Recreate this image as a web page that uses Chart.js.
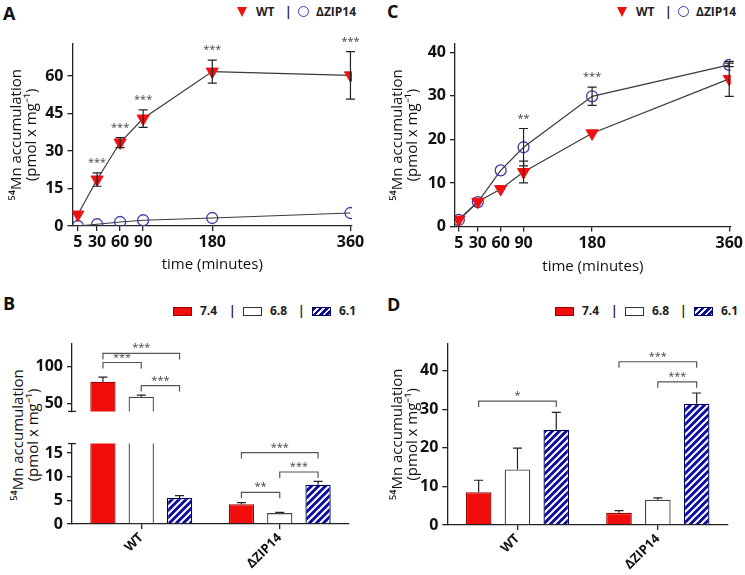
<!DOCTYPE html>
<html>
<head>
<meta charset="utf-8">
<script src="https://cdn.jsdelivr.net/npm/chart.js@4.4.1/dist/chart.umd.min.js"></script>
<style>
    body { margin: 0; background: #fff; font-family: 'Open Sans', sans-serif; }
    #fig { position: relative; width: 745px; height: 575px; overflow: hidden; background: #fff; }
    #fig canvas { position: absolute; }
    .panel { position: absolute; font-size: 18px; line-height: 18px; font-weight: bold; color: #111; }
    .legend { position: absolute; height: 16px; font-size: 12px; line-height: 16px; font-weight: bold; color: #222; }
    .legend > * { position: absolute; top: 0; white-space: nowrap; }
    .tri { width: 0; height: 0; margin-top: 3px; border-left: 5.5px solid transparent; border-right: 5.5px solid transparent; border-top: 10px solid #ee1111; }
    .circ { width: 9px; height: 9px; margin-top: 2px; border: 1.3px solid #3b3ba6; border-radius: 50%; }
    .sw { width: 17px; height: 7px; margin-top: 3.5px; border: 1.2px solid #333; }
    .sw.red { background: #f20d0d; border-color: #9a0000; }
    .sw.white { background: #fff; }
    .sw.hatch { background: repeating-linear-gradient(135deg, #0c0ca0 0 2.6px, #fff 2.6px 4.4px); border-color: #000060; }
    .ytitle { position: absolute; width: 220px; height: 30px; text-align: center; font-size: 15px; line-height: 15px; color: #111; transform: rotate(-90deg); }
</style>
</head>
<body>
<div id="fig">
    <div class="panel" style="left:3px; top:4px;">A</div>
    <div class="panel" style="left:3px; top:294px;">B</div>
    <div class="panel" style="left:387px; top:2px;">C</div>
    <div class="panel" style="left:387px; top:295px;">D</div>
    <div class="ytitle" style="left:-85px; top:420px;">⁵⁴Mn accumulation<br>(pmol x mg⁻¹)</div>
</div>

<script>
// time course (panels A and C)
const timePoints = [5, 30, 60, 90, 180, 360];
const strainNames = ['WT', 'ΔZIP14'];

const aWT = [4.6, 18.6, 33.4, 43.0, 61.8, 60.3];
const aWTErr = [0, 2.7, 2.0, 3.5, 4.6, 9.5];
const aZIP = [0, 0.7, 1.6, 2.3, 3.2, 5.2];
const aZIPErr = [0, 0, 0, 0, 0, 0];
const aStars = ['', '***', '***', '***', '***', '***'];
const aYTicks = [0, 15, 30, 45, 60];

const cWT = [1.6, 5.7, 8.6, 12.5, 21.4, 33.9];
const cWTErr = [0, 0, 0, 2.5, 0, 4.0];
const cZIP = [1.5, 5.6, 12.9, 18.2, 29.9, 37.1];
const cZIPErr = [0, 0, 0, 4.3, 2.1, 0.4];
const cStars = ['', '', '', '**', '***', ''];
const cYTicks = [0, 10, 20, 30, 40];

// pH bars (panels B and D)
const phLevels = ['7.4', '6.8', '6.1'];

const b74 = [79.5, 4.2];
const b74Err = [5.9, 0.3];
const b68 = [59.4, 2.3];
const b68Err = [2.1, 0.15];
const b61 = [5.5, 8.3];
const b61Err = [0.5, 0.7];
// [strain, from pH, to pH, level, label]
const bBrackets = [[0, 0, 2, 117, '***'], [0, 0, 1, 104.9, '***'], [0, 1, 2, 74.3, '***'],
                   [1, 0, 2, 15.1, '***'], [1, 1, 2, 11.0, '***'], [1, 0, 1, 6.7, '**']];
const bUpperTicks = [50, 100];
const bLowerTicks = [0, 5, 10, 15];

const d74 = [8.5, 3.15];
const d74Err = [3.1, 0.55];
const d68 = [14.4, 6.55];
const d68Err = [5.5, 0.5];
const d61 = [24.7, 31.4];
const d61Err = [4.5, 2.8];
const dBrackets = [[0, 0, 2, 32.1, '*'], [1, 0, 2, 42.3, '***'], [1, 1, 2, 37.1, '***']];
const dYTicks = [0, 10, 20, 30, 40];

const fontFam = "'Open Sans', sans-serif";
const axisColor = '#222';
const yTitle = ['⁵⁴Mn accumulation', '(pmol x mg⁻¹)'];
const tickFont = { family: fontFam, size: 16, weight: 'bold' };

// error bars, stars and brackets, placed with the chart's own scales
const marks = {
    id: 'marks',
    afterDatasetsDraw(chart, args, o) {
        const ctx = chart.ctx;
        const y = chart.scales.y;
        const errTops = [];
        ctx.save();
        ctx.strokeStyle = '#222';
        ctx.lineWidth = 1.2;
        (o.errors || []).forEach(function (errs, di) {
            const meta = chart.getDatasetMeta(di);
            const vals = chart.data.datasets[di].data;
            errs.forEach(function (e, i) {
                const v = typeof vals[i] === 'object' ? vals[i].y : vals[i];
                const px = meta.data[i].x;
                const top = y.getPixelForValue(v + e);
                errTops[i] = Math.min(errTops[i] === undefined ? Infinity : errTops[i], top);
                if (!e || v > y.max || v + e < y.min) return;
                const bot = o.upOnly ? y.getPixelForValue(v) : y.getPixelForValue(v - e);
                ctx.beginPath();
                ctx.moveTo(px, top); ctx.lineTo(px, bot);
                ctx.moveTo(px - 4.5, top); ctx.lineTo(px + 4.5, top);
                if (!o.upOnly) { ctx.moveTo(px - 4.5, bot); ctx.lineTo(px + 4.5, bot); }
                ctx.stroke();
            });
        });
        ctx.fillStyle = '#444';
        ctx.font = '11px ' + fontFam;
        ctx.textAlign = 'center';
        ctx.textBaseline = 'alphabetic';
        (o.stars || []).forEach(function (s, i) {
            if (!s) return;
            const px = chart.getDatasetMeta(0).data[i].x;
            ctx.fillText(s, px, errTops[i] - 7);
        });
        (o.brackets || []).forEach(function (b) {
            if (b[3] < y.min || b[3] > y.max) return;
            const x1 = chart.getDatasetMeta(b[1]).data[b[0]].x;
            const x2 = chart.getDatasetMeta(b[2]).data[b[0]].x;
            const py = y.getPixelForValue(b[3]);
            ctx.strokeStyle = '#555';
            ctx.beginPath();
            ctx.moveTo(x1, py + 6); ctx.lineTo(x1, py); ctx.lineTo(x2, py); ctx.lineTo(x2, py + 6);
            ctx.stroke();
            ctx.fillText(b[4], (x1 + x2) / 2, py - 2);
        });
        if (o.breakCap) {
            const a = chart.chartArea;
            const cy = o.breakCap === 'top' ? a.top : a.bottom;
            ctx.strokeStyle = axisColor;
            ctx.lineWidth = 1.3;
            ctx.beginPath();
            ctx.moveTo(a.left - 4, cy); ctx.lineTo(a.left + 4, cy);
            ctx.stroke();
        }
        ctx.restore();
    }
};

function makeCanvas(left, top, w, h) {
    const c = document.createElement('canvas');
    c.width = w;
    c.height = h;
    c.style.left = left + 'px';
    c.style.top = top + 'px';
    c.style.width = w + 'px';
    c.style.height = h + 'px';
    document.getElementById('fig').appendChild(c);
    return c;
}

// legend rows: [class or null, text, x offset]
function makeLegend(left, top, items) {
    const box = document.createElement('div');
    box.className = 'legend';
    box.style.left = left + 'px';
    box.style.top = top + 'px';
    items.forEach(function (it) {
        const el = document.createElement('span');
        if (it[0]) el.className = it[0];
        el.textContent = it[1];
        el.style.left = it[2] + 'px';
        box.appendChild(el);
    });
    document.getElementById('fig').appendChild(box);
}

function strainLegend(left, top) {
    makeLegend(left, top, [['tri', '', 0], [null, strainNames[0], 19], [null, '|', 48],
                           ['circ', '', 61], [null, strainNames[1], 79]]);
}

function phLegend(left, top) {
    makeLegend(left, top, [['sw red', '', 0], [null, phLevels[0], 27], [null, '|', 56],
                           ['sw white', '', 70], [null, phLevels[1], 97], [null, '|', 125],
                           ['sw hatch', '', 139], [null, phLevels[2], 166]]);
}

function makeHatch() {
    const p = document.createElement('canvas');
    p.width = 7;
    p.height = 7;
    const g = p.getContext('2d');
    g.fillStyle = '#0c0ca0';
    g.fillRect(0, 0, 7, 7);
    g.strokeStyle = '#fff';
    g.lineWidth = 2;
    g.beginPath();
    g.moveTo(-2, 9); g.lineTo(9, -2);
    g.moveTo(-2, 2); g.lineTo(2, -2);
    g.moveTo(5, 9); g.lineTo(9, 5);
    g.stroke();
    return g.createPattern(p, 'repeat');
}
const hatch = makeHatch();

function yAxis(min, max, tickVals, width, titlePad) {
    return {
        min: min,
        max: max,
        afterBuildTicks: function (axis) { axis.ticks = tickVals.map(v => ({ value: v })); },
        afterFit: function (axis) { axis.width = width; },
        grid: { drawOnChartArea: false, color: axisColor, tickLength: 5, lineWidth: 1.3 },
        border: { color: axisColor, width: 1.3 },
        ticks: { font: tickFont, color: '#111', padding: 4 },
        title: {
            display: titlePad !== null,
            text: yTitle,
            font: { family: fontFam, size: 15, lineHeight: 1.0 },
            color: '#111',
            padding: { top: titlePad || 0, bottom: 0 }
        }
    };
}

function timeAxis(min, max, height) {
    return {
        type: 'linear',
        min: min,
        max: max,
        afterBuildTicks: function (axis) { axis.ticks = timePoints.map(v => ({ value: v })); },
        afterFit: function (axis) { axis.height = height; },
        grid: { drawOnChartArea: false, color: axisColor, tickLength: 5, lineWidth: 1.3 },
        border: { color: axisColor, width: 1.3 },
        ticks: { font: tickFont, color: '#111', padding: 2, maxRotation: 0, autoSkip: false },
        title: { display: true, text: 'time (minutes)', font: { family: fontFam, size: 15, lineHeight: 1.2 }, color: '#111', padding: 0 }
    };
}

function strainAxis(height, show) {
    return {
        type: 'category',
        display: show,
        afterFit: function (axis) { axis.height = height; },
        grid: { drawOnChartArea: false, offset: false, color: axisColor, tickLength: 5, lineWidth: 1.3 },
        border: { color: axisColor, width: 1.3 },
        ticks: { font: { family: fontFam, size: 13, weight: 'bold' }, color: '#111', minRotation: 45, maxRotation: 45, padding: 1 }
    };
}

function timeData(wt, zip) {
    return {
        datasets: [{
            label: strainNames[0],
            data: timePoints.map((t, i) => ({ x: t, y: wt[i] })),
            borderColor: '#3a3a3a',
            borderWidth: 1.2,
            pointStyle: 'triangle',
            pointRotation: 180,
            pointRadius: 7,
            pointBackgroundColor: '#ee1111',
            pointBorderColor: '#ee1111',
            pointBorderWidth: 1,
            tension: 0,
            fill: false
        }, {
            label: strainNames[1],
            data: timePoints.map((t, i) => ({ x: t, y: zip[i] })),
            borderColor: '#3a3a3a',
            borderWidth: 1.2,
            pointStyle: 'circle',
            pointRadius: 5.5,
            pointBackgroundColor: 'rgba(0,0,0,0)',
            pointBorderColor: '#3b3ba6',
            pointBorderWidth: 1.3,
            tension: 0,
            fill: false
        }]
    };
}

function barData(v74, v68, v61) {
    const styles = [
        { backgroundColor: '#f20d0d', borderColor: '#9a0000' },
        { backgroundColor: '#ffffff', borderColor: '#444444' },
        { backgroundColor: hatch, borderColor: '#000060' }
    ];
    return {
        labels: strainNames,
        datasets: [v74, v68, v61].map((vals, k) => Object.assign({
            label: phLevels[k],
            data: vals,
            borderWidth: 1.3,
            categoryPercentage: 0.83,
            barPercentage: 0.66,
            clip: 0
        }, styles[k]))
    };
}

function baseOptions(padding, scales, markOpts) {
    return {
        responsive: false,
        animation: false,
        devicePixelRatio: 1,
        layout: { padding: padding },
        scales: scales,
        plugins: { legend: { display: false }, tooltip: { enabled: false }, marks: markOpts }
    };
}

strainLegend(237, 4);
strainLegend(617, 4);
phLegend(173, 303);
phLegend(555, 303);

// A: time course at pH 7.4
new Chart(makeCanvas(0, 30, 370, 250), {
    type: 'line',
    data: timeData(aWT, aZIP),
    options: baseOptions({ left: 0, top: 10.5, right: 18, bottom: 6 },
        { x: timeAxis(-2, 362, 48), y: yAxis(0, 73, aYTicks, 72.5, 9.5) },
        { errors: [aWTErr, aZIPErr], stars: aStars }),
    plugins: [marks]
});

// C: time course at low pH
new Chart(makeCanvas(370, 30, 375, 250), {
    type: 'line',
    data: timeData(cWT, cZIP),
    options: baseOptions({ left: 0, top: 8, right: 11, bottom: 4 },
        { x: timeAxis(0, 362, 49.5), y: yAxis(0, 42, cYTicks, 85, 20.5) },
        { errors: [cWTErr, cZIPErr], stars: cStars }),
    plugins: [marks]
});

// B: broken axis, upper segment
new Chart(makeCanvas(0, 330, 370, 95), {
    type: 'bar',
    data: barData(b74, b68, b61),
    options: baseOptions({ left: 0, top: 6, right: 21, bottom: 2 },
        { x: strainAxis(0, false), y: yAxis(40, 130, bUpperTicks, 72, null) },
        { errors: [b74Err, b68Err, b61Err], upOnly: true, brackets: bBrackets, breakCap: 'bottom' }),
    plugins: [marks]
});

// B: broken axis, lower segment
new Chart(makeCanvas(0, 430, 370, 145), {
    type: 'bar',
    data: barData(b74, b68, b61),
    options: baseOptions({ left: 0, top: 8, right: 21, bottom: 0 },
        { x: strainAxis(51, true), y: yAxis(0, 17, bLowerTicks, 72, null) },
        { errors: [b74Err, b68Err, b61Err], upOnly: true, brackets: bBrackets, breakCap: 'top' }),
    plugins: [marks]
});

// D
new Chart(makeCanvas(370, 330, 375, 245), {
    type: 'bar',
    data: barData(d74, d68, d61),
    options: baseOptions({ left: 0, top: 6.7, right: 17, bottom: 0 },
        { x: strainAxis(50, true), y: yAxis(0, 47, dYTicks, 77.3, 20.5) },
        { errors: [d74Err, d68Err, d61Err], upOnly: true, brackets: dBrackets }),
    plugins: [marks]
});
</script>
</body>
</html>
